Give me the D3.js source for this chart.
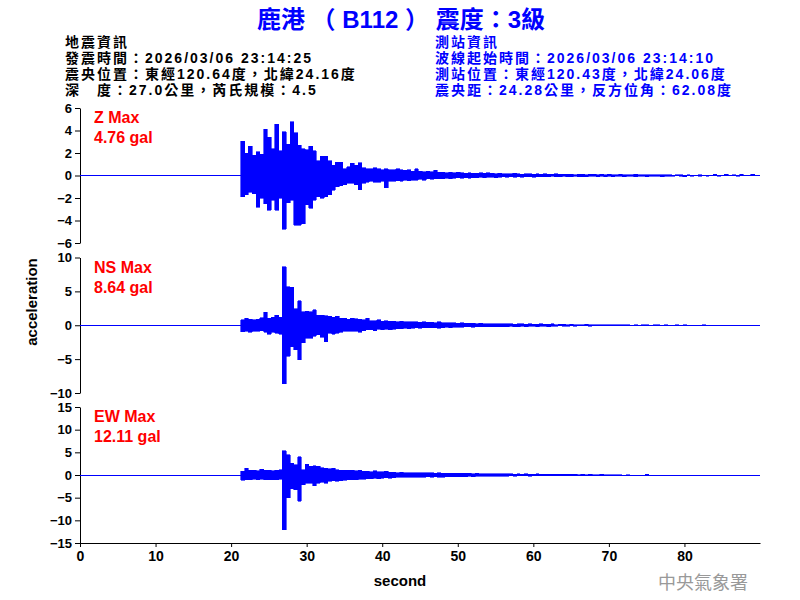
<!DOCTYPE html>
<html>
<head>
<meta charset="utf-8">
<script src="https://cdn.jsdelivr.net/npm/d3@7"></script>
<style>
  body { margin: 0; background: #fff; }
  text { font-family: "Liberation Sans", Arial, "Noto Sans CJK TC", sans-serif; font-weight: bold; }
</style>
</head>
<body>
<svg width="800" height="600"></svg>
<script>
var svg = d3.select("svg"),
    width = 800,
    height = 600;

// ---- data ----
var title = "鹿港 （ B112 ） 震度：3級";
var quakeInfo = ["地震資訊", "發震時間：2026/03/06 23:14:25", "震央位置：東經120.64度，北緯24.16度", "深　度：27.0公里，芮氏規模：4.5"];
var stationInfo = ["測站資訊", "波線起始時間：2026/03/06 23:14:10", "測站位置：東經120.43度，北緯24.06度", "震央距：24.28公里，反方位角：62.08度"];

var components = ["Z", "NS", "EW"];
var peaks = ["4.76", "8.64", "12.11"];
var yDomains = [[-6, 6], [-10, 10], [-15, 15]];
var yTicks = [[-6, -4, -2, 0, 2, 4, 6], [-10, -5, 0, 5, 10], [-15, -10, -5, 0, 5, 10, 15]];
var xDomain = [0, 90];
var xTicks = [0, 10, 20, 30, 40, 50, 60, 70, 80];

// record starts at onset (s); peaks read per 0.5 s window (upper / lower)
var onset = 21.3, step = 0.5;

var zMax = [
  3.05,2.0,2.6,1.8,2.1,1.9,4.1,3.4,2.4,4.55,
  2.2,3.9,2.8,4.76,3.8,2.7,2.4,2.3,2.6,2.2,
  1.3,1.7,1.7,1.3,0.9,1.2,1.2,0.6,0.8,1.1,
  0.9,1.15,0.7,0.6,0.6,0.7,0.6,0.5,0.6,0.5,
  0.5,0.6,0.5,0.45,0.5,0.4,0.6,0.4,0.35,0.4,
  0.35,0.45,0.3,0.3,0.25,0.3,0.25,0.3,0.25,0.2,
  0.25,0.2,0.2,0.25,0.2,0.24,0.2,0.15,0.2,0.15,
  0.15,0.15,0.2,0.15,0.1,0.15,0.15,0.1,0.15,0.1,
  0.15,0.1,0.1,0.15,0.1,0.1,0.1,0.1,0.05,0.1,
  0.1,0.05,0.1,0.1,0.05,0.1,0.05,0.1,0.05,0.05,
  0.1,0.05,0.05,0.05,0.1,0.05,0.05,0.05,0.05,0.05,
  0.05,0.05,0.05,0.05,0,0.05,0.05,0,0.05,0,
  0,0.05,0,0,0,0.1,0,0,0.1,0,
  0.05,0,0.1,0,0,0.1,0];
var zMin = [
  -1.9,-1.7,-1.5,-1.6,-2.8,-2.0,-2.5,-3.1,-2.2,-3.1,
  -2.0,-4.76,-2.4,-2.2,-4.4,-4.4,-4.3,-2.6,-2.9,-2.2,
  -1.9,-2.0,-1.9,-1.7,-1.3,-1.0,-0.9,-0.8,-0.7,-0.7,
  -0.8,-1.25,-0.7,-0.6,-0.5,-0.6,-0.6,-0.5,-1.07,-0.5,
  -0.5,-0.45,-0.5,-0.4,-0.45,-0.4,-0.4,-0.35,-0.4,-0.3,
  -0.35,-0.3,-0.3,-0.3,-0.25,-0.3,-0.25,-0.2,-0.25,-0.2,
  -0.24,-0.2,-0.2,-0.15,-0.2,-0.15,-0.15,-0.2,-0.15,-0.1,
  -0.15,-0.1,-0.15,-0.1,-0.15,-0.1,-0.1,-0.15,-0.1,-0.1,
  -0.1,-0.1,-0.05,-0.1,-0.1,-0.05,-0.1,-0.1,-0.05,-0.1,
  -0.1,-0.1,-0.05,-0.05,-0.1,-0.05,-0.1,-0.05,-0.1,-0.05,
  -0.05,-0.1,-0.05,-0.05,-0.1,-0.05,-0.05,-0.1,-0.05,-0.05,
  -0.05,-0.1,-0.05,-0.05,-0.05,0,-0.05,-0.1,0,-0.05,
  0,-0.05,0,-0.05,0,0,-0.05,0,0,0,
  0,-0.05,0,0,0,0,0];

var nsMax = [
  0.8,1.0,0.9,0.8,0.9,1.1,1.9,1.0,1.2,1.5,
  1.2,8.64,5.7,5.6,2.4,3.6,2.0,2.1,2.0,2.3,
  1.5,1.5,1.4,1.3,1.2,1.3,1.0,1.0,0.9,1.0,
  0.95,0.9,0.8,1.0,0.7,0.7,0.8,0.6,0.7,0.6,
  0.6,0.55,0.6,0.5,0.55,0.5,0.5,0.45,0.5,0.45,
  0.45,0.4,0.5,0.4,0.35,0.4,0.35,0.3,0.35,0.3,
  0.3,0.3,0.25,0.3,0.25,0.2,0.25,0.2,0.2,0.25,
  0.2,0.2,0.15,0.2,0.2,0.15,0.2,0.15,0.15,0.2,
  0.15,0.15,0.2,0.1,0.15,0.15,0.1,0.15,0.1,0.1,
  0.1,0.15,0.1,0.1,0.1,0.05,0.1,0.1,0.05,0.1,
  0.05,0.1,0.05,0,0.05,0,0.05,0.05,0,0.05,
  0.05,0,0.05,0,0,0.05,0,0.05,0,0,
  0,0,0.05,0,0,0,0,0,0,0,
  0,0,0,0,0,0,0];
var nsMin = [
  -0.95,-0.9,-1.0,-0.9,-0.9,-0.8,-1.0,-1.3,-1.0,-1.2,
  -1.3,-8.6,-4.6,-3.2,-3.6,-5.1,-2.6,-1.9,-1.9,-1.6,
  -1.4,-1.8,-2.4,-1.2,-1.35,-1.2,-1.0,-0.9,-0.9,-0.9,
  -0.9,-1.0,-0.8,-0.7,-0.7,-0.8,-0.6,-0.7,-0.6,-0.7,
  -0.6,-0.5,-0.5,-0.45,-0.5,-0.45,-0.4,-0.45,-0.4,-0.4,
  -0.4,-0.35,-0.45,-0.35,-0.3,-0.35,-0.3,-0.3,-0.3,-0.25,
  -0.25,-0.3,-0.25,-0.2,-0.25,-0.2,-0.2,-0.25,-0.2,-0.2,
  -0.2,-0.15,-0.2,-0.2,-0.15,-0.2,-0.15,-0.15,-0.2,-0.15,
  -0.15,-0.2,-0.15,-0.15,-0.1,-0.15,-0.15,-0.1,-0.15,-0.1,
  -0.1,-0.1,-0.15,-0.1,-0.05,-0.1,-0.1,-0.05,-0.1,-0.05,
  -0.05,-0.1,-0.05,-0.05,0,-0.05,0,-0.05,-0.05,0,
  0,-0.05,-0.05,0,-0.05,0,-0.05,-0.05,0,-0.05,
  0,-0.05,0,-0.05,0,0,0,0,0,0,
  0,0,0,0,0,0,0];

var ewMax = [
  0.8,1.5,1.0,1.0,0.9,1.3,1.0,1.0,0.9,1.0,
  1.2,5.3,4.5,2.6,2.3,4.0,1.2,2.4,1.9,2.0,
  1.9,1.6,1.5,1.4,1.5,1.2,1.1,1.0,1.0,1.0,
  0.9,1.0,0.8,0.8,0.7,0.9,0.7,0.7,0.8,0.6,
  0.6,0.55,0.6,0.5,0.5,0.55,0.5,0.45,0.5,0.45,
  0.45,0.4,0.45,0.4,0.4,0.35,0.4,0.35,0.4,0.35,
  0.35,0.3,0.35,0.3,0.3,0.25,0.3,0.25,0.3,0.25,
  0.25,0.3,0.2,0.25,0.2,0.25,0.2,0.2,0.25,0.2,
  0.2,0.15,0.2,0.15,0.2,0.15,0.15,0.2,0.15,0.1,
  0.15,0.1,0.15,0.1,0.1,0.15,0.1,0.05,0.1,0.05,
  0.05,0,0.05,0,0,0,0,0.2,0,0,
  0,0,0,0,0,0,0,0,0,0,
  0,0,0,0,0,0,0,0,0,0,
  0,0,0,0,0,0,0];
var ewMin = [
  -1.2,-1.0,-1.0,-0.9,-1.0,-0.9,-1.0,-1.1,-1.0,-1.0,
  -0.9,-12.11,-5.0,-3.0,-3.2,-5.8,-2.1,-1.8,-1.8,-2.35,
  -1.8,-1.6,-1.8,-1.4,-1.3,-1.4,-1.3,-1.2,-1.0,-1.1,
  -1.0,-0.9,-0.9,-0.8,-0.8,-0.7,-0.8,-0.7,-0.6,-0.7,
  -0.6,-0.55,-0.5,-0.5,-0.55,-0.45,-0.5,-0.45,-0.45,-0.4,
  -0.45,-0.4,-0.45,-0.5,-0.4,-0.4,-0.35,-0.4,-0.35,-0.35,
  -0.3,-0.35,-0.3,-0.3,-0.25,-0.3,-0.25,-0.3,-0.25,-0.25,
  -0.25,-0.2,-0.25,-0.2,-0.2,-0.2,-0.25,-0.2,-0.15,-0.2,
  -0.2,-0.15,-0.15,-0.2,-0.15,-0.15,-0.1,-0.15,-0.15,-0.1,
  -0.1,-0.15,-0.1,-0.1,-0.15,-0.1,-0.05,-0.1,-0.05,-0.05,
  0,-0.05,0,0,0,0,0,0,0,0,
  -0.2,0,0,0,0,0,0,0,0,0,
  0,0,0,0,0,0,0,0,0,0,
  0,0,0,0,0,0,0];

var upper = [zMax, nsMax, ewMax],
    lower = [zMin, nsMin, ewMin];

// ---- layout ----
var left = 80, right = 760;
var bands = [[108, 243], [257.5, 393], [407, 543]];
var blue = "#0000ff", red = "#ff0000";

var x = d3.scaleLinear().domain(xDomain).range([left, right]);

// title
svg.append("text")
    .attr("x", 401)
    .attr("y", 28)
    .attr("text-anchor", "middle")
    .style("font-size", "24px")
    .style("fill", blue)
    .text(title);

// info blocks (tight line pitch like the original bitmap font)
function infoBlock(lines, x0, colour) {
  svg.append("g").selectAll("text")
      .data(lines).enter().append("text")
      .attr("x", x0)
      .attr("y", function(d, i) { return 47 + i * 16; })
      .style("font-size", "14px")
      .style("letter-spacing", "2px")
      .style("fill", colour)
      .text(function(d) { return d; });
}
infoBlock(quakeInfo, 65, "#000");
infoBlock(stationInfo, 435, blue);

// peak windows: [time, upper, lower]
function windows(hi, lo) {
  var w = hi.map(function(v, i) { return [onset + i * step, v, lo[i]]; });
  w.push([onset + hi.length * step, 0, 0]);
  return w;
}

components.forEach(function(name, k) {
  var y = d3.scaleLinear().domain(yDomains[k]).range([bands[k][1], bands[k][0]]);
  var g = svg.append("g").attr("class", "panel " + name);

  var yAxis = g.append("g")
      .attr("transform", "translate(" + left + ",0)")
      .call(d3.axisLeft(y).tickValues(yTicks[k]).tickSize(5).tickSizeOuter(0).tickPadding(3));
  yAxis.selectAll("text")
      .style("font-size", "13px")
      .style("font-family", "Liberation Sans, Arial, sans-serif")
      .style("font-weight", "bold")
      .attr("fill", "#000");
  yAxis.selectAll("line,path").attr("stroke", "#000");

  // baseline of the trace (record is flat before onset)
  g.append("path")
      .datum(xDomain)
      .attr("fill", "none")
      .attr("stroke", blue)
      .attr("stroke-width", 1)
      .attr("shape-rendering", "crispEdges")
      .attr("d", d3.line().x(function(d) { return x(d); }).y(function() { return y(0); }));

  var area = d3.area()
      .curve(d3.curveStepAfter)
      .x(function(d) { return x(d[0]); })
      .y0(function(d) { return y(d[2]); })
      .y1(function(d) { return y(d[1]); });

  g.append("path")
      .datum(windows(upper[k], lower[k]))
      .attr("fill", blue)
      .attr("stroke", blue)
      .attr("stroke-width", 0.6)
      .attr("shape-rendering", "crispEdges")
      .attr("d", area);

  g.append("text")
      .attr("x", 94)
      .attr("y", bands[k][0] + 15)
      .style("font-size", "16px")
      .style("fill", red)
      .text(name + " Max");
  g.append("text")
      .attr("x", 94)
      .attr("y", bands[k][0] + 35)
      .style("font-size", "16px")
      .style("fill", red)
      .text(peaks[k] + " gal");
});

// time axis
var xAxis = svg.append("g")
    .attr("transform", "translate(0," + bands[2][1] + ")")
    .call(d3.axisBottom(x).tickValues(xTicks).tickSize(4).tickSizeOuter(0).tickPadding(4));
xAxis.selectAll("text")
    .style("font-size", "14px")
    .style("font-family", "Liberation Sans, Arial, sans-serif")
    .style("font-weight", "bold")
    .attr("fill", "#000");
xAxis.selectAll("line,path").attr("stroke", "#000");

svg.append("text")
    .attr("x", 400)
    .attr("y", 586)
    .attr("text-anchor", "middle")
    .style("font-size", "15px")
    .text("second");

svg.append("text")
    .attr("transform", "translate(37,302) rotate(-90)")
    .attr("text-anchor", "middle")
    .style("font-size", "15px")
    .text("acceleration");

svg.append("text")
    .attr("x", 748)
    .attr("y", 589)
    .attr("text-anchor", "end")
    .style("font-size", "18px")
    .style("font-weight", "normal")
    .style("font-family", "Noto Sans CJK TC, sans-serif")
    .style("fill", "#999")
    .text("中央氣象署");
</script>
</body>
</html>
